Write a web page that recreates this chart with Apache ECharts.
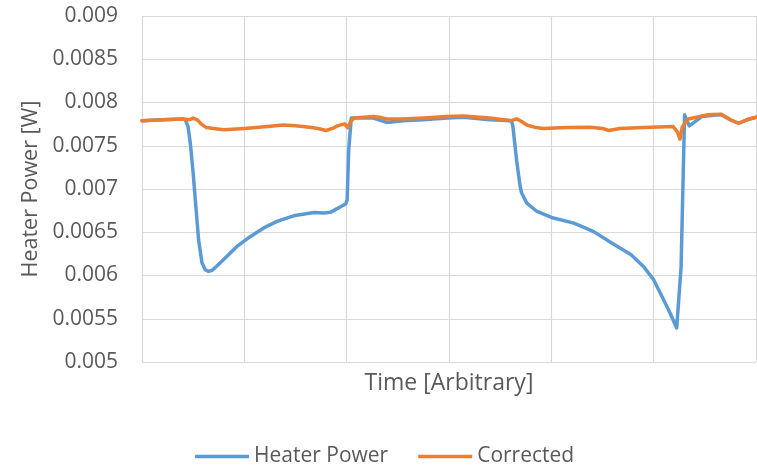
<!DOCTYPE html>
<html><head><meta charset="utf-8">
<script src="https://cdn.jsdelivr.net/npm/echarts@6/dist/echarts.min.js"></script>
<style>html,body{margin:0;padding:0;background:#fff}#c{width:757px;height:467px}</style>
</head><body><div id="c"></div>
<script>
// x positions in arbitrary time units (0..600)
const heaterPower = [[0,0.00779],[20,0.0078],[40,0.00781],[42.3,0.0078],[45,0.00772],[47.2,0.007533],[50,0.00718],[52.1,0.006875],[55.3,0.006413],[58.6,0.006148],[61.8,0.006067],[65,0.006047],[68.7,0.006061],[76.5,0.006148],[92.8,0.006336],[106,0.006452],[119,0.00655],[132,0.006625],[148,0.00669],[168,0.006729],[178,0.006722],[184,0.00673],[199,0.006826],[200.5,0.006875],[202,0.00745],[204.5,0.00782],[213,0.00782],[226,0.00782],[239,0.00777],[255,0.00779],[275,0.0078],[298,0.00782],[314,0.00783],[340,0.0078],[361,0.00779],[362.5,0.00772],[366,0.007337],[369.5,0.007029],[371,0.006953],[376,0.006837],[386,0.00674],[402,0.006664],[422,0.006606],[441,0.00651],[459,0.006375],[478,0.00624],[490,0.006105],[500,0.005951],[508,0.005759],[516,0.005567],[522.5,0.005394],[526.8,0.0061],[530.2,0.007857],[534.8,0.00773],[547,0.007837],[566,0.00786],[575,0.0078],[583,0.00776],[591,0.0078],[600,0.00783]];
const corrected = [[0,0.00779],[20,0.0078],[40,0.00781],[46,0.0078],[50,0.00782],[54,0.0078],[58,0.00775],[63,0.00771],[70,0.0077],[80,0.007685],[100,0.0077],[120,0.00772],[138,0.00774],[150,0.00773],[164,0.007715],[172,0.0077],[180,0.007676],[186,0.0077],[191,0.00773],[198,0.007753],[201,0.00771],[204,0.00778],[207,0.00782],[226,0.007837],[232,0.00783],[239,0.00781],[255,0.00781],[275,0.00782],[298,0.007837],[314,0.007845],[340,0.00782],[361,0.00779],[366,0.00781],[371,0.00778],[376,0.00774],[385,0.00771],[392,0.0077],[415,0.00771],[438,0.007715],[450,0.0077],[456,0.007676],[467,0.0077],[490,0.00771],[519,0.007722],[523,0.007664],[525.7,0.007576],[528,0.00772],[534,0.00781],[552,0.007857],[566,0.007865],[575,0.0078],[583,0.00776],[591,0.0078],[600,0.00783]];
const seriesNames = ['Heater Power','Corrected'];
const yTicks = {min:0.005, max:0.009, step:0.0005};
const xRange = {min:0, max:600, step:100};

const FONT = 'Open Sans';
const chart = echarts.init(document.getElementById('c'));
chart.setOption({
  animation:false,
  grid:{left:142, top:16, width:614, height:346},
  legend:{top:441, left:190, itemWidth:54, itemHeight:3.5, itemGap:30, icon:'rect',
    textStyle:{fontFamily:FONT, fontSize:21, color:'#595959'}, data:seriesNames},
  xAxis:{type:'value', min:xRange.min, max:xRange.max, interval:xRange.step,
    name:'Time [Arbitrary]', nameLocation:'middle', nameGap:10,
    nameTextStyle:{fontFamily:FONT, fontSize:23, color:'#595959'},
    axisLabel:{show:false}, axisTick:{show:false}, axisLine:{show:false},
    splitLine:{show:true, lineStyle:{color:'#d9d9d9', width:1.2}}},
  yAxis:{type:'value', min:yTicks.min, max:yTicks.max, interval:yTicks.step,
    name:'Heater Power [W]', nameLocation:'middle', nameGap:97,
    nameTextStyle:{fontFamily:FONT, fontSize:21.5, color:'#595959'},
    axisLabel:{margin:24, fontFamily:FONT, fontSize:21, color:'#595959',
      formatter:v=>String(parseFloat(v.toFixed(5)))},
    axisTick:{show:false}, axisLine:{show:false},
    splitLine:{show:true, lineStyle:{color:'#d9d9d9', width:1.2}}},
  series:[
    {name:seriesNames[0], type:'line', data:heaterPower, symbol:'none', color:'#5b9bd5',
      lineStyle:{width:3.5, color:'#5b9bd5', join:'round', cap:'round'}},
    {name:seriesNames[1], type:'line', data:corrected, symbol:'none', color:'#ed7d31',
      lineStyle:{width:3.5, color:'#ed7d31', join:'round', cap:'round'}}
  ]
});
</script></body></html>
